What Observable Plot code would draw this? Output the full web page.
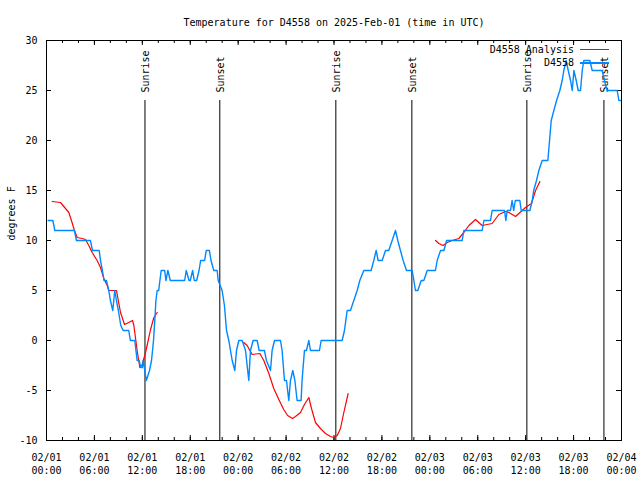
<!DOCTYPE html>
<html><head><meta charset="utf-8">
<script src="https://cdn.jsdelivr.net/npm/d3@7"></script>
<script src="https://cdn.jsdelivr.net/npm/@observablehq/plot@0.6"></script>
<style>
body{margin:0;background:#fff;}
#wrap{position:relative;width:640px;height:480px;font-family:"DejaVu Sans Mono",monospace;font-size:10px;color:#000;}
.legtxt{position:absolute;right:66px;height:13px;line-height:13px;white-space:pre;}
.legline{position:absolute;left:580px;width:29px;height:0;}
</style></head><body><div id="wrap"></div>
<script>
const titleText = "Temperature for D4558 on 2025-Feb-01 (time in UTC)";
const yLabel = "degrees F";
const seriesNames = ["D4558 Analysis", "D4558"];
const seriesColors = ["#ff0000", "#0088ff"];

// hours since 2025-02-01 00:00 UTC
const obsHours = [0.2,0.8,1.04,3.5,3.75,5.5,5.76,6.6,6.76,7.0,7.2,7.5,7.8,8.0,8.3,8.55,8.76,9.0,9.3,9.6,10.3,10.5,11.06,11.2,11.35,11.6,11.8,12.0,12.1,12.3,12.5,12.7,12.9,13.15,13.4,13.56,13.7,13.86,14.05,14.2,14.36,14.8,14.95,15.2,15.5,17.3,17.5,17.85,18.0,18.3,18.5,18.8,19.1,19.3,19.8,20.0,20.4,20.6,20.95,21.37,21.5,21.99,22.28,22.54,22.83,23.25,23.58,23.79,24.08,24.5,24.92,25.33,25.54,25.87,26.38,26.63,27.29,27.54,28.05,28.25,28.55,29.3,29.5,29.8,30.05,30.34,30.55,30.84,31.1,31.38,31.88,32.0,32.3,32.55,32.85,33.05,34.18,34.39,37.02,37.31,37.65,38.06,38.48,38.9,39.23,39.73,40.65,40.98,41.28,41.53,42.03,42.45,42.86,43.28,43.7,43.99,44.32,44.66,45.08,45.79,46.0,46.2,46.5,46.92,47.25,47.67,48.7,48.92,49.34,49.76,50.1,52.05,52.26,54.55,54.77,55.6,55.8,57.35,57.52,57.69,58.1,58.3,58.5,58.7,59.27,59.44,60.53,60.82,61.0,61.36,61.65,62.07,62.78,62.99,63.2,63.53,63.87,64.28,64.57,64.78,65.07,65.33,65.62,65.83,66.04,66.33,66.58,66.87,67.08,67.29,68.04,68.33,69.58,69.87,70.2,71.46,71.67,71.88];
const obsTemps = [12,12,11,11,10,10,9,9,8,7,6,6,5,4,3,5,4,3,1.5,1,1,0,0,-1,-2,-2,-2.7,-2.7,-2,-3,-4,-3.5,-3,-2,0,2,4,5,5,6,7,7,6,7,6,6,7,6,6,7,6,6,7,8,8,9,9,8,7,7,6,5,3.5,1,0,-2,-3,-1,0,0,-1,-4,-1,0,0,-1,-1,-2,-3,-1,0,0,-1,-4,-4,-6,-4,-3,-4,-6,-6,-4,-1,-1,0,-1,-1,0,0,1,3,3,4,5,6,7,7,8,9,8,8,9,9,10,11,10,9,8,7,7,6,5,5,6,6,7,7,8,9,9,10,10,11,11,12,12,13,13,12,13,13,14,13,14,14,13,13,14,15,16,17,18,18,20,22,23,24,25,26,27,28,27,26,25,27,26,25,25,27,28,28,27,27,26,25,25,24,24];

const anaHours = [0.71,1.75,2.38,2.8,3.2,3.5,3.84,4.47,4.88,5.3,5.72,6.34,6.76,7.18,7.6,7.8,8.76,9.27,9.77,10.3,10.77,10.94,11.35,11.69,11.98,12.19,12.31,12.6,13.0,13.44,13.86,
  19,
  24.7,25.12,25.75,26.71,27.21,27.84,28.46,29.09,29.7,30.2,30.8,31.18,31.8,32.3,32.85,33.18,33.68,34.3,34.93,35.56,35.97,36.4,36.81,37.23,37.77,
  43,
  48.71,49.13,49.67,50.17,50.8,51.63,52.26,52.89,53.72,54.55,55.18,55.8,56.64,57.48,57.9,58.73,59.57,59.98,60.73,61.24,61.78];
const anaTemps = [13.9,13.8,13.2,12.8,11.8,11.0,10.3,10.2,10.1,9.5,8.8,8.0,7.3,6.2,5.5,5.0,5.0,2.8,1.6,1.8,2.0,1.5,-1.0,-2.7,-2.4,-1.8,-1.5,-0.5,1.0,2.3,2.8,
  NaN,
  -0.2,-0.5,-1.4,-1.3,-2.0,-3.3,-4.8,-5.9,-6.9,-7.5,-7.8,-7.6,-7.2,-6.4,-5.7,-6.8,-8.2,-8.8,-9.3,-9.6,-9.7,-9.5,-8.8,-7.2,-5.3,
  NaN,
  10.0,9.7,9.5,9.8,10.0,10.2,10.8,11.5,12.1,11.5,11.6,11.7,12.6,12.9,12.8,12.4,13.0,13.3,13.7,15.0,15.9];

const eventHours = [12.33, 21.7, 36.23, 45.75, 60.15, 69.8];
const eventLabels = ["Sunrise", "Sunset", "Sunrise", "Sunset", "Sunrise", "Sunset"];
const eventTop = 24;

const xMajorTicks = [0, 6, 12, 18, 24, 30, 36, 42, 48, 54, 60, 66, 72];
const xTickLabels = ["02/01\n00:00","02/01\n06:00","02/01\n12:00","02/01\n18:00","02/02\n00:00","02/02\n06:00","02/02\n12:00","02/02\n18:00","02/03\n00:00","02/03\n06:00","02/03\n12:00","02/03\n18:00","02/04\n00:00"];
const xMinorTicks = d3.range(0, 73, 2);
const yTicks = [-10, -5, 0, 5, 10, 15, 20, 25, 30];
const yTickLabels = ["-10", "-5", "0", "5", "10", "15", "20", "25", "30"];

const obs = obsHours.map((h, i) => ({h, t: obsTemps[i]}));
const ana = anaHours.map((h, i) => ({h, t: anaTemps[i]}));
const events = eventHours.map((h, i) => ({h, label: eventLabels[i]}));
const xLab = xMajorTicks.map((h, i) => ({h, label: xTickLabels[i]}));
const yLab = yTicks.map((v, i) => ({v, label: yTickLabels[i]}));

const PH = 400; // plot inner height
const PW = 575;

const chart = Plot.plot({
  width: 640, height: 480,
  marginLeft: 46, marginRight: 19, marginTop: 40, marginBottom: 40,
  style: {fontFamily: "DejaVu Sans Mono", fontSize: "10px", background: "white", color: "black"},
  x: {domain: [0, 72], axis: null},
  y: {domain: [-10, 30], axis: null},
  marks: [
    Plot.tickX(xMinorTicks, {x: d => d, insetTop: PH - 3, stroke: "black"}),
    Plot.tickX(xMinorTicks, {x: d => d, insetBottom: PH - 3, stroke: "black"}),
    Plot.tickX(xMajorTicks, {x: d => d, insetTop: PH - 5, stroke: "black"}),
    Plot.tickX(xMajorTicks, {x: d => d, insetBottom: PH - 5, stroke: "black"}),
    Plot.tickY(yTicks, {y: d => d, insetRight: PW - 5, stroke: "black"}),
    Plot.tickY(yTicks, {y: d => d, insetLeft: PW - 5, stroke: "black"}),
    Plot.text(xLab, {x: "h", text: "label", frameAnchor: "bottom", lineAnchor: "top", dy: 11, lineHeight: 1.3, fill: "black"}),
    Plot.text(yLab, {y: "v", text: "label", frameAnchor: "left", textAnchor: "end", dx: -9, fill: "black"}),
    Plot.text([yLabel], {text: d => d, frameAnchor: "left", rotate: -90, dx: -35, fill: "black"}),
    Plot.text([titleText], {text: d => d, frameAnchor: "top", dy: -22, fill: "black"}),
    Plot.ruleX(events, {x: "h", y1: eventTop, y2: -10, stroke: "black", strokeWidth: 1}),
    Plot.text(events, {x: "h", y: eventTop, text: "label", rotate: -90, textAnchor: "start", lineAnchor: "middle", dy: -8, dx: 1, fill: "black"}),
    Plot.line(ana, {x: "h", y: "t", stroke: seriesColors[0], strokeWidth: 1.2}),
    Plot.line(obs, {x: "h", y: "t", stroke: seriesColors[1], strokeWidth: 1.4}),
    Plot.frame({stroke: "black"})
  ]
});

const wrap = document.getElementById("wrap");
wrap.appendChild(chart);
const rows = [43, 56];
seriesNames.forEach((name, i) => {
  const t = document.createElement("div");
  t.className = "legtxt";
  t.style.top = rows[i] + "px";
  t.textContent = name;
  wrap.appendChild(t);
  const l = document.createElement("div");
  l.className = "legline";
  l.style.top = (rows[i] + 6) + "px";
  l.style.borderTop = (i === 0 ? "1px" : "2px") + " solid " + seriesColors[i];
  wrap.appendChild(l);
});
</script>
</body></html>
